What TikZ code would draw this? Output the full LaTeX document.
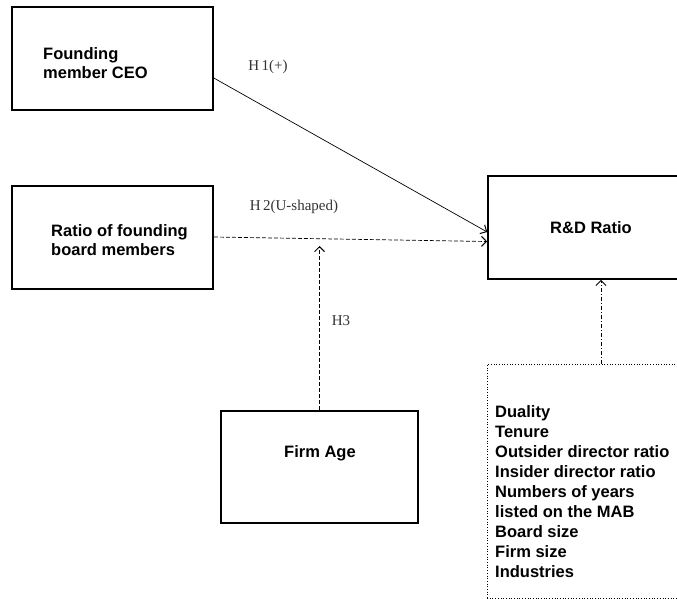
\documentclass[tikz,border=0pt]{standalone}
\usepackage{fontspec}
\setmainfont{Liberation Sans}
\newfontfamily\hypfont{Liberation Serif}
\usetikzlibrary{arrows.meta}

\tikzset{
  varbox/.style={draw, line width=1.6pt, inner sep=0pt},
  ctrlbox/.style={draw, line width=0.7pt, dotted, inner sep=0pt},
  boxtext/.style={font=\fontsize{16.5}{19.5}\selectfont\bfseries, align=left, inner sep=0pt},
  hyp/.style={font=\hypfont\fontsize{15}{17}\selectfont, text=black!80, inner sep=0pt},
  link/.style={->, >={Straight Barb[length=5pt,width=10pt,line width=1pt]}, line width=0.7pt},
}

\begin{document}
\begin{tikzpicture}[x=1pt,y=-1pt]
    \useasboundingbox (0,0) rectangle (677,599);
    \clip (0,0) rectangle (677,599);

    % Draw boxes for the variables
    \node[varbox, minimum width=201pt, minimum height=103pt] (ceo) at (112.5,58.5) {};
    \node[varbox, minimum width=201pt, minimum height=103pt] (ratio) at (112.5,237.5) {};
    \node[varbox, minimum width=230pt, minimum height=103pt] (rd) at (603,227.5) {};
    \node[varbox, minimum width=197pt, minimum height=112pt] (age) at (319.5,467) {};
    \node[ctrlbox, minimum width=270pt, minimum height=234pt] (ctrl) at (622,481) {};

    % Texts in the boxes
    \node[boxtext, anchor=west] (ceotext) at (43,63) {Founding\\member CEO};
    \node[boxtext, anchor=west] (ratiotext) at (51,240) {Ratio of founding\\board members};
    \node[boxtext] (rdtext) at (591,228) {R\&D Ratio};
    \node[boxtext] (agetext) at (320,453) {Firm Age};
    \node[boxtext, anchor=north west, font=\fontsize{16.5}{20}\selectfont\bfseries] (ctrltext) at (495,405)
        {Duality\\Tenure\\Outsider director ratio\\Insider director ratio\\Numbers of years\\listed on the MAB\\Board size\\Firm size\\Industries};

    % Draw hypotheses
    \coordinate (h3end) at (319.5,246);
    \coordinate (ctrlx) at (601,0);
    \draw[link] ([yshift=-19.5pt]ceo.east) -- ([yshift=-4.5pt]rd.west);
    \draw[link, dash pattern=on 4pt off 2pt] ([yshift=0.5pt]ratio.east) -- ([yshift=-14pt]rd.west);
    \draw[link, dash pattern=on 4pt off 2pt] (age.north) -- (h3end);
    \draw[link, dash pattern=on 4pt off 2pt on 1pt off 2pt] (ctrl.north -| ctrlx) -- (rd.south -| ctrlx);

    % Labels
    \node[hyp] (h1) at (268,67) {H\,1(+)};
    \node[hyp] (h2) at (294,207) {H\,2(U-shaped)};
    \node[hyp] (h3) at (341,321) {H3};
\end{tikzpicture}
\end{document}
